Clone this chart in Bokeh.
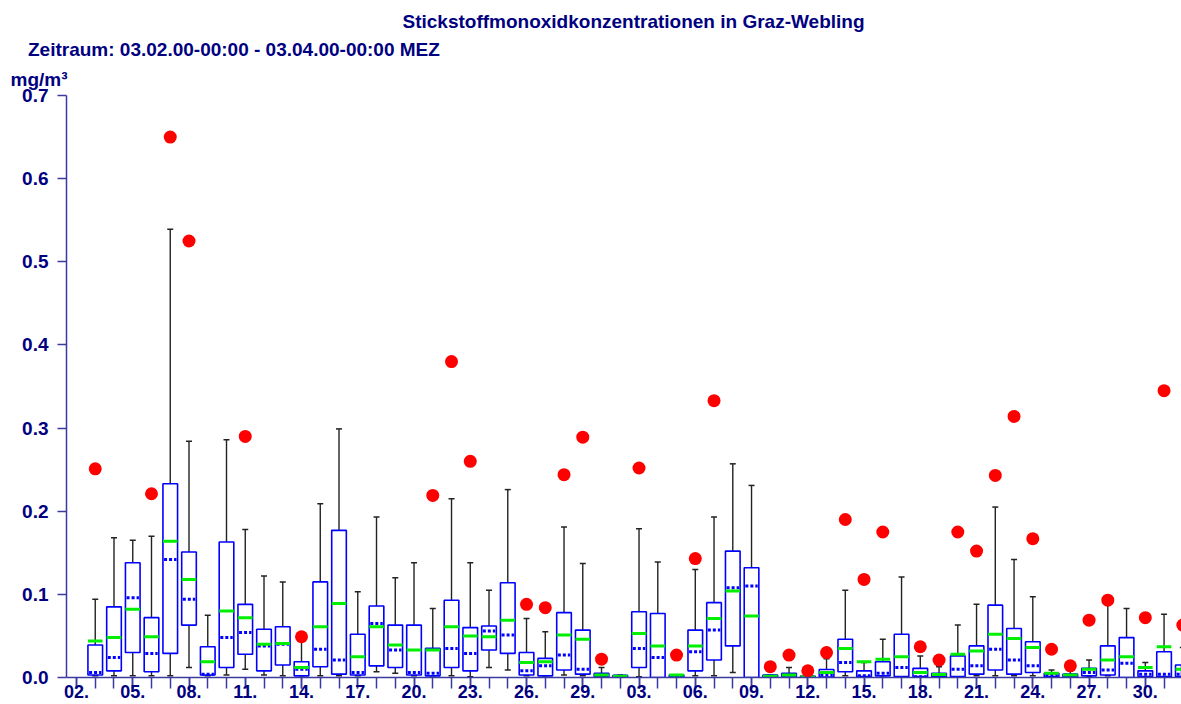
import math
from bokeh.plotting import figure
from bokeh.models import FixedTicker, Title, ColumnDataSource, PrintfTickFormatter
from bokeh.embed import file_html
from bokeh.resources import INLINE

# ---------------- data ----------------
title_text = "Stickstoffmonoxidkonzentrationen in Graz-Webling"
subtitle_text = "Zeitraum: 03.02.00-00:00 - 03.04.00-00:00 MEZ"
unit_text = "mg/m³"

tick_days = list(range(0, 60))            # one tick per day, 02.02 = 0
label_days = list(range(0, 60, 3))
day_labels = ["02.", "05.", "08.", "11.", "14.", "17.", "20.", "23.", "26.", "29.",
              "03.", "06.", "09.", "12.", "15.", "18.", "21.", "24.", "27.", "30."]

days = list(range(1, 60))                 # 03.02 ... 01.04
q1 = [0.003, 0.008, 0.030, 0.007, 0.029, 0.063, 0.003, 0.012, 0.028, 0.008,
      0.015, 0.002, 0.013, 0.004, 0.003, 0.014, 0.012, 0.003, 0.002, 0.012,
      0.008, 0.033, 0.029, 0.003, 0.002, 0.009, 0.004, 0.001, 0.0005, 0.012,
      0.000, 0.0005, 0.008, 0.021, 0.038, 0.000, 0.0005, 0.0005, 0.0005, 0.0005,
      0.007, 0.001, 0.002, 0.001, 0.001, 0.001, 0.001, 0.004, 0.009, 0.004,
      0.006, 0.001, 0.001, 0.002, 0.003, 0.000, 0.001, 0.001, 0.001]
q3 = [0.039, 0.085, 0.138, 0.072, 0.233, 0.151, 0.037, 0.163, 0.088, 0.058,
      0.061, 0.019, 0.115, 0.177, 0.052, 0.086, 0.063, 0.063, 0.035, 0.093,
      0.060, 0.062, 0.114, 0.030, 0.023, 0.078, 0.057, 0.005, 0.0025, 0.079,
      0.077, 0.003, 0.057, 0.090, 0.152, 0.132, 0.003, 0.005, 0.0016, 0.0096,
      0.046, 0.008, 0.019, 0.052, 0.011, 0.005, 0.026, 0.038, 0.087, 0.059,
      0.043, 0.005, 0.004, 0.011, 0.038, 0.048, 0.008, 0.031, 0.015]
means = [0.044, 0.048, 0.082, 0.049, 0.164, 0.118, 0.019, 0.080, 0.072, 0.040,
         0.041, 0.012, 0.061, 0.089, 0.025, 0.061, 0.039, 0.033, 0.033, 0.061,
         0.050, 0.049, 0.069, 0.018, 0.019, 0.051, 0.046, 0.003, 0.0015, 0.053,
         0.038, 0.003, 0.038, 0.071, 0.104, 0.074, 0.0015, 0.003, 0.001, 0.006,
         0.035, 0.019, 0.022, 0.025, 0.006, 0.0036, 0.028, 0.032, 0.052, 0.047,
         0.036, 0.005, 0.003, 0.010, 0.021, 0.025, 0.012, 0.037, 0.010]
medians = [0.006, 0.024, 0.096, 0.029, 0.142, 0.094, 0.004, 0.048, 0.054, 0.038,
           0.040, 0.010, 0.034, 0.021, 0.006, 0.065, 0.033, 0.006, 0.005, 0.035,
           0.029, 0.056, 0.051, 0.008, 0.014, 0.027, 0.010, 0.0025, 0.0015, 0.035,
           0.024, 0.001, 0.031, 0.057, 0.108, 0.110, 0.0015, 0.003, 0.001, 0.003,
           0.018, 0.002, 0.005, 0.012, 0.001, 0.002, 0.010, 0.014, 0.034, 0.021,
           0.014, 0.003, 0.003, 0.006, 0.009, 0.017, 0.004, 0.004, 0.004]
whisker_lo = [0.002, 0.002, 0.002, 0.002, 0.002, 0.012, 0.002, 0.003, 0.010, 0.003,
              0.002, 0.002, 0.002, 0.002, 0.002, 0.007, 0.005, 0.002, 0.002, 0.002,
              0.001, 0.012, 0.009, 0.002, 0.002, 0.003, 0.002, 0.001, 0.0005, 0.001,
              0.000, 0.0005, 0.002, 0.002, 0.006, 0.000, 0.0005, 0.0005, 0.0005, 0.0005,
              0.002, 0.001, 0.002, 0.001, 0.001, 0.001, 0.001, 0.002, 0.002, 0.002,
              0.002, 0.001, 0.001, 0.001, 0.002, 0.000, 0.001, 0.001, 0.001]
whisker_hi = [0.094, 0.168, 0.165, 0.170, 0.539, 0.284, 0.075, 0.286, 0.178, 0.122,
              0.115, 0.045, 0.209, 0.299, 0.103, 0.193, 0.120, 0.138, 0.083, 0.215,
              0.138, 0.105, 0.226, 0.071, 0.055, 0.181, 0.137, 0.012, 0.003, 0.179,
              0.139, 0.003, 0.130, 0.193, 0.257, 0.231, 0.003, 0.012, 0.002, 0.0225,
              0.105, 0.018, 0.046, 0.121, 0.026, 0.013, 0.063, 0.088, 0.205, 0.142,
              0.097, 0.009, 0.012, 0.021, 0.088, 0.083, 0.018, 0.076, 0.036]
maxima = [0.251, None, None, 0.221, 0.650, 0.525, None, None, 0.290, None,
          None, 0.049, None, None, None, None, None, None, 0.219, 0.380,
          0.260, None, None, 0.088, 0.084, 0.244, 0.289, 0.022, None, 0.252,
          None, 0.027, 0.143, 0.333, None, None, 0.013, 0.027, 0.008, 0.030,
          0.190, 0.118, 0.175, None, 0.037, 0.021, 0.175, 0.152, 0.243, 0.314,
          0.167, 0.034, 0.014, 0.069, 0.093, None, 0.072, 0.345, 0.063]

# ---------------- styles ----------------
NAVY = "#000080"
AXIS = "#3a3aa0"
FONT = "Liberation Sans"

p = figure(width=1181, height=704, output_backend="svg", toolbar_location=None,
           x_range=(-0.533, 58.93), y_range=(0, 0.7),
           min_border_left=66, min_border_right=0, min_border_top=95, min_border_bottom=27)
p.background_fill_color = "white"
p.border_fill_color = "white"
p.outline_line_color = None
p.xgrid.visible = False
p.ygrid.visible = False

# titles (first added sits closest to the plot)
p.add_layout(Title(text=unit_text, align="left", offset=-56, standoff=11, text_font=FONT,
                   text_font_style="bold", text_font_size="19px", text_color=NAVY), "above")
p.add_layout(Title(text=subtitle_text, align="left", offset=-38.5, standoff=4, text_font=FONT,
                   text_font_style="bold", text_font_size="19px", text_color=NAVY), "above")
p.add_layout(Title(text=title_text, align="left", offset=336, standoff=5, text_font=FONT,
                   text_font_style="bold", text_font_size="19px", text_color=NAVY), "above")

# y axis
p.yaxis.ticker = FixedTicker(ticks=[k / 10 for k in range(8)])
p.yaxis.formatter = PrintfTickFormatter(format="%.1f")
p.yaxis.minor_tick_line_color = None
p.yaxis.major_tick_in = 0
p.yaxis.major_tick_out = 9
p.yaxis.major_label_standoff = 9
p.yaxis.axis_line_color = AXIS
p.yaxis.axis_line_width = 1.5
p.yaxis.major_tick_line_color = AXIS
p.yaxis.major_tick_line_width = 1.5
p.yaxis.major_label_text_font = FONT
p.yaxis.major_label_text_font_style = "bold"
p.yaxis.major_label_text_font_size = "19px"
p.yaxis.major_label_text_color = NAVY

# x axis: labelled ticks every 3 days, plain ticks every day
p.xaxis.ticker = FixedTicker(ticks=label_days, minor_ticks=tick_days)
p.xaxis.major_label_overrides = {d: t for d, t in zip(label_days, day_labels)}
p.xaxis.major_tick_in = 0
p.xaxis.major_tick_out = 11
p.xaxis.minor_tick_in = 0
p.xaxis.minor_tick_out = 11
p.xaxis.major_label_standoff = -4
p.xaxis.axis_line_color = AXIS
p.xaxis.axis_line_width = 1.5
p.xaxis.major_tick_line_color = AXIS
p.xaxis.major_tick_line_width = 1.5
p.xaxis.minor_tick_line_color = AXIS
p.xaxis.minor_tick_line_width = 1.5
p.xaxis.major_label_text_font = FONT
p.xaxis.major_label_text_font_style = "bold"
p.xaxis.major_label_text_font_size = "18px"
p.xaxis.major_label_text_color = NAVY

# glyphs
src = ColumnDataSource(dict(
    day=days, q1=q1, q3=q3, mean=means, median=medians, lo=whisker_lo, hi=whisker_hi,
    mx=[m if m is not None else math.nan for m in maxima],
    med_l=[d - 0.33 for d in days], med_r=[d + 0.33 for d in days],
    mean_l=[d - 0.39 for d in days], mean_r=[d + 0.39 for d in days],
))

p.segment(x0="day", y0="lo", x1="day", y1="hi", source=src, line_color="#222222", line_width=1.4)
p.scatter(x="day", y="hi", source=src, marker="dash", size=6, line_color="#222222", line_width=1.5)
p.scatter(x="day", y="lo", source=src, marker="dash", size=6, line_color="#222222", line_width=1.5)
p.vbar(x="day", width=0.78, bottom="q1", top="q3", source=src,
       fill_color="white", line_color="#0000ff", line_width=1.6)
p.segment(x0="med_l", y0="median", x1="med_r", y1="median", source=src,
          line_color="#0000ff", line_width=3, line_dash="3 2")
p.segment(x0="mean_l", y0="mean", x1="mean_r", y1="mean", source=src,
          line_color="#00ee00", line_width=3)
p.scatter(x="day", y="mx", source=src, size=13, fill_color="#ff0000", line_color=None)

open("out.html", "w").write(file_html(p, INLINE))
